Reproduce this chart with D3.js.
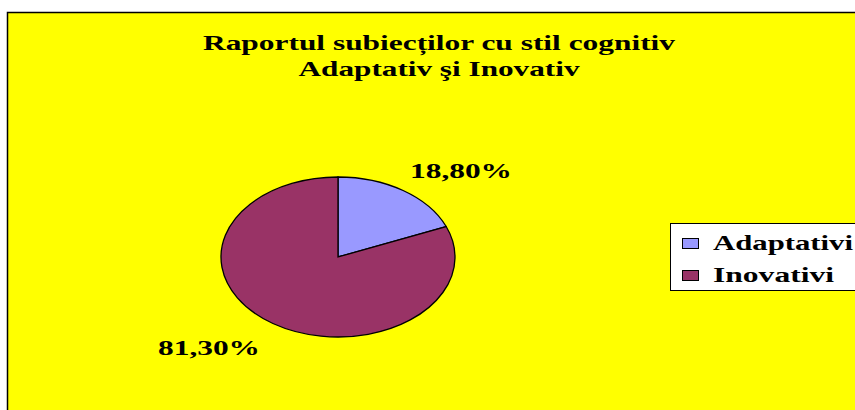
<!DOCTYPE html>
<html>
<head>
<meta charset="utf-8">
<script src="https://cdn.jsdelivr.net/npm/d3@7"></script>
<style>
  body { margin: 0; background: #fff; }
  svg { display: block; }
  text { font-family: "Liberation Serif", "DejaVu Serif", "Times New Roman", serif; font-weight: bold; }
</style>
</head>
<body>
<div id="chart"></div>
<script>
const width = 855;
const height = 410;

// data
const categories = ["Adaptativi", "Inovativi"];
const values = [18.8, 81.3];
const labels = ["18,80%", "81,30%"];
const colors = ["#9999FF", "#993366"];
const titleLines = ["Raportul subiecților cu stil cognitiv", "Adaptativ şi Inovativ"];

const svg = d3.select("#chart")
    .append("svg")
    .attr("width", width)
    .attr("height", height);

// yellow chart area
svg.append("rect")
    .attr("x", 7.5)
    .attr("y", 12.5)
    .attr("width", width + 20)
    .attr("height", height + 20)
    .attr("fill", "#FFFF00")
    .attr("stroke", "#000")
    .attr("stroke-width", 1.5);

// Title - stretched wide like the original export
const titleWidths = [472, 281];
svg.append("g")
    .selectAll("text")
    .data(titleLines)
    .enter()
    .append("text")
    .attr("x", (d, i) => 439 - titleWidths[i] / 2)
    .attr("y", (d, i) => 50 + i * 26)
    .attr("textLength", (d, i) => titleWidths[i])
    .attr("lengthAdjust", "spacingAndGlyphs")
    .style("font-size", "21px")
    .text(d => d);

// Pie (circle squashed into an ellipse)
const cx = 338, cy = 257, rx = 117, ry = 80;

const pie = d3.pie().sort(null).value(d => d);
const arcs = pie(values);
const arc = d3.arc().innerRadius(0).outerRadius(rx);

const pieG = svg.append("g")
    .attr("transform", `translate(${cx}, ${cy}) scale(1, ${ry / rx})`);

pieG.selectAll("path")
    .data(arcs)
    .enter()
    .append("path")
    .attr("d", arc)
    .attr("fill", (d, i) => colors[i])
    .attr("stroke", "#000")
    .attr("stroke-width", 1.3)
    .attr("vector-effect", "non-scaling-stroke");

// data labels
const labelPos = [[410, 178], [158, 355]];
svg.append("g")
    .selectAll("text")
    .data(labels)
    .enter()
    .append("text")
    .attr("x", (d, i) => labelPos[i][0])
    .attr("y", (d, i) => labelPos[i][1])
    .attr("textLength", 102)
    .attr("lengthAdjust", "spacingAndGlyphs")
    .style("font-size", "22px")
    .text(d => d);

// Legend
const legend = svg.append("g")
    .attr("transform", "translate(670, 223)");

legend.append("rect")
    .attr("x", 0.5)
    .attr("y", 0.5)
    .attr("width", 220)
    .attr("height", 67)
    .attr("fill", "#fff")
    .attr("stroke", "#000")
    .attr("stroke-width", 1);

const legendWidths = [140, 121];
const item = legend.selectAll("g.item")
    .data(categories)
    .enter()
    .append("g")
    .attr("class", "item")
    .attr("transform", (d, i) => `translate(0, ${i * 32})`);

item.append("rect")
    .attr("x", 12.5)
    .attr("y", 15.5)
    .attr("width", 16)
    .attr("height", 10)
    .attr("fill", (d, i) => colors[i])
    .attr("stroke", "#000")
    .attr("stroke-width", 1);

item.append("text")
    .attr("x", 43)
    .attr("y", 27)
    .attr("textLength", (d, i) => legendWidths[i])
    .attr("lengthAdjust", "spacingAndGlyphs")
    .style("font-size", "22px")
    .text(d => d);
</script>
</body>
</html>
